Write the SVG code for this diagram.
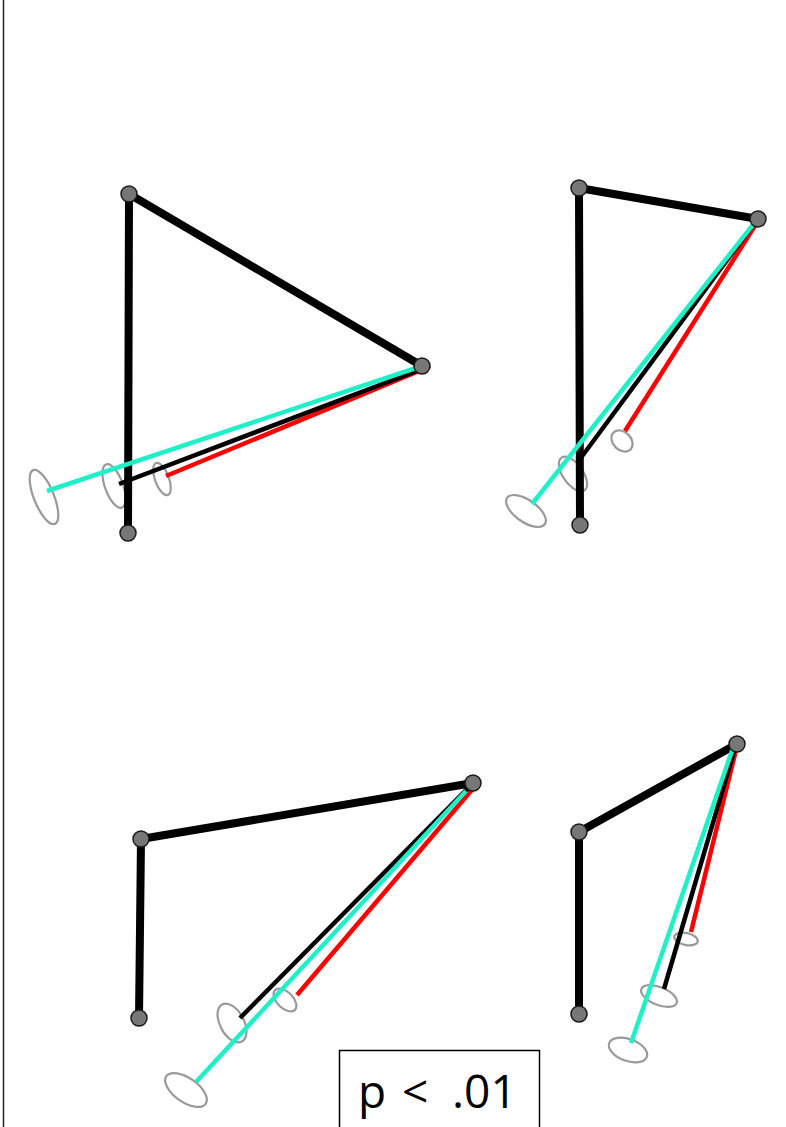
<svg xmlns="http://www.w3.org/2000/svg" width="786" height="1127" viewBox="0 0 786 1127">
<style>
.arm{stroke:#000;stroke-width:8;stroke-linecap:round;fill:none}
.k{stroke:#000;stroke-width:4.5;fill:none}
.c{stroke:#1ff0c8;stroke-width:4.5;fill:none}
.r{stroke:#ff0000;stroke-width:4.5;fill:none}
.ell{fill:none;stroke:#9a9a9a;stroke-width:2.2}
.node{fill:#777;stroke:#1a1a1a;stroke-width:1.5}
.lbl{font-family:"Open Sans","Noto Sans",sans-serif;font-size:46px;fill:#000}
</style>
<rect width="786" height="1127" fill="#fff"/>
<line x1="3.5" y1="0" x2="3.5" y2="1127" stroke="#222" stroke-width="1.5"/>
<g id="ellipses">
<ellipse class="ell" cx="44" cy="497" rx="10" ry="29" transform="rotate(-22 44 497)"/>
<ellipse class="ell" cx="114" cy="486" rx="9" ry="23" transform="rotate(-20 114 486)"/>
<ellipse class="ell" cx="162" cy="479" rx="7" ry="17" transform="rotate(-20 162 479)"/>
<ellipse class="ell" cx="526" cy="511" rx="23" ry="11" transform="rotate(35 526 511)"/>
<ellipse class="ell" cx="573" cy="474" rx="20" ry="10" transform="rotate(55 573 474)"/>
<ellipse class="ell" cx="622" cy="441" rx="12" ry="9" transform="rotate(45 622 441)"/>
<ellipse class="ell" cx="186" cy="1090" rx="24" ry="12" transform="rotate(35 186 1090)"/>
<ellipse class="ell" cx="232" cy="1023" rx="21" ry="12" transform="rotate(62 232 1023)"/>
<ellipse class="ell" cx="285" cy="1000" rx="14" ry="8" transform="rotate(45 285 1000)"/>
<ellipse class="ell" cx="628" cy="1050" rx="20" ry="11" transform="rotate(20 628 1050)"/>
<ellipse class="ell" cx="659" cy="996" rx="19" ry="9" transform="rotate(22 659 996)"/>
<ellipse class="ell" cx="686" cy="939" rx="12" ry="6" transform="rotate(12 686 939)"/>
</g>
<g id="connectors">
<line class="arm" x1="129" y1="194" x2="128" y2="533"/>
<line class="arm" x1="129" y1="194" x2="422" y2="366"/>
<line class="r" x1="424" y1="369" x2="166" y2="476"/>
<line class="k" x1="430" y1="366" x2="119" y2="484"/>
<line class="c" x1="422" y1="366" x2="47" y2="491"/>
<line class="arm" x1="579" y1="188" x2="580" y2="525"/>
<line class="arm" x1="579" y1="188" x2="758" y2="219"/>
<line class="r" x1="758" y1="221" x2="625" y2="431"/>
<line class="k" x1="756" y1="221" x2="580" y2="459"/>
<line class="c" x1="756" y1="221" x2="532" y2="504"/>
<line class="arm" x1="141" y1="839" x2="139" y2="1018"/>
<line class="arm" x1="141" y1="839" x2="473" y2="783"/>
<line class="r" x1="476" y1="785" x2="297" y2="995"/>
<line class="k" x1="473" y1="783" x2="240" y2="1018"/>
<line class="c" x1="466" y1="791" x2="196" y2="1082"/>
<line class="arm" x1="579" y1="832" x2="579" y2="1014"/>
<line class="arm" x1="579" y1="832" x2="737" y2="744"/>
<line class="r" x1="737" y1="746" x2="691" y2="932"/>
<line class="k" x1="735" y1="748" x2="664" y2="989"/>
<line class="c" x1="733" y1="748" x2="631" y2="1043"/>
</g>
<g id="nodes">
<circle id="p1a" class="node" cx="129" cy="194" r="8"/>
<circle id="p1b" class="node" cx="128" cy="533" r="8"/>
<circle id="p1c" class="node" cx="422" cy="366" r="8"/>
<circle id="p2a" class="node" cx="579" cy="188" r="8"/>
<circle id="p2b" class="node" cx="580" cy="525" r="8"/>
<circle id="p2c" class="node" cx="758" cy="219" r="8"/>
<circle id="p3a" class="node" cx="141" cy="839" r="8"/>
<circle id="p3b" class="node" cx="139" cy="1018" r="8"/>
<circle id="p3c" class="node" cx="473" cy="783" r="8"/>
<circle id="p4a" class="node" cx="579" cy="832" r="8"/>
<circle id="p4b" class="node" cx="579" cy="1014" r="8"/>
<circle id="p4c" class="node" cx="737" cy="744" r="8"/>
</g>
<g id="label">
<rect x="339.5" y="1050.5" width="200" height="90" fill="#fff" stroke="#000" stroke-width="1.5"/>
<text class="lbl" x="358" y="1108">p <tspan x="402">&lt;</tspan> <tspan x="452">.01</tspan></text>
</g>
</svg>
